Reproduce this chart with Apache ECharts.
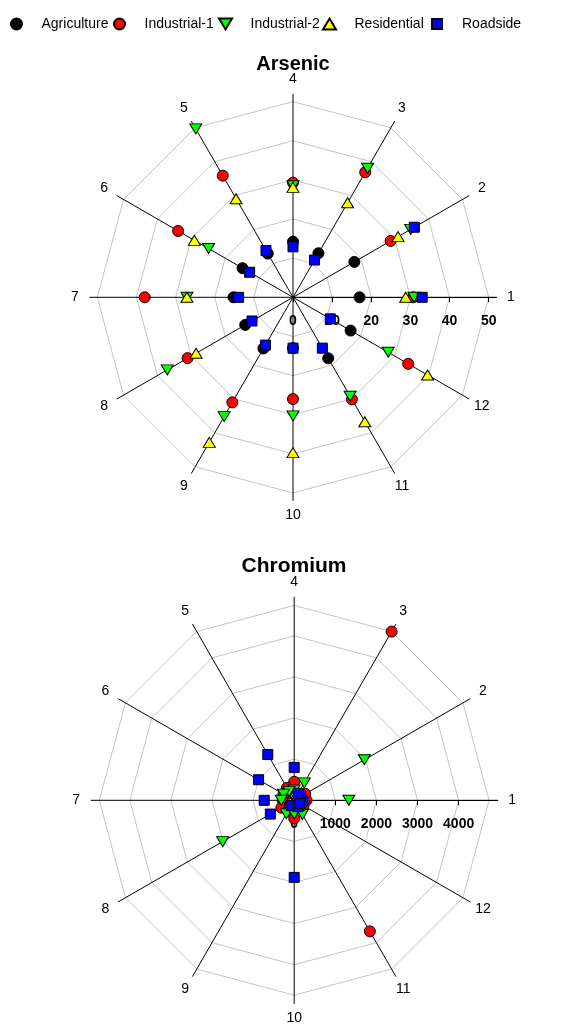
<!DOCTYPE html>
<html>
<head>
<meta charset="utf-8">
<script src="https://cdn.jsdelivr.net/npm/echarts@6/dist/echarts.min.js"></script>
<style>
html,body{margin:0;padding:0;background:#fff;}
#chart{width:569px;height:1025px;}
</style>
</head>
<body>
<div id="chart"></div>
<script>
// ---- data ----
const months = ['1','2','3','4','5','6','7','8','9','10','11','12'];
const seriesNames = ['Agriculture','Industrial-1','Industrial-2','Residential','Roadside'];

// Arsenic values for months 1..12
const asAgriculture = [17.0, 18.1, 13.0, 14.2, 12.9, 14.9, 15.2, 14.1, 15.1, 13.0, 18.0, 17.0];
const asIndustrial1 = [30.7, 28.8, 36.9, 29.3, 35.9, 33.9, 37.9, 31.1, 31.0, 26.0, 30.1, 34.0];
const asIndustrial2 = [30.9, 34.7, 38.1, 28.5, 49.7, 24.9, 27.1, 37.1, 35.2, 30.3, 29.2, 28.1];
const asResidential = [28.8, 31.0, 27.9, 28.1, 29.1, 29.1, 27.1, 28.6, 42.8, 39.7, 36.7, 39.7];
const asRoadside    = [33.0, 35.8, 11.0, 12.9, 13.8, 12.8, 13.9, 12.1, 14.1, 13.0, 15.0, 11.0];

// Chromium values for months 1..12
const crAgriculture = [240, 200, 180, 150, 150, 170, 200, 180, 170, 160, 200, 230];
const crIndustrial1 = [300, 310, 4740, 450, 350, 300, 280, 360, 300, 440, 3680, 260];
const crIndustrial2 = [1330, 1970, 490, 250, 250, 300, 315, 2010, 380, 335, 400, 270];
const crResidential = [120, 110, 100, 100, 90, 90, 100, 110, 100, 100, 110, 120];
const crRoadside    = [200, 180, 195, 800, 1285, 1000, 730, 670, 150, 1875, 180, 160];

// axis ticks / rings
const asTicks = [0, 10, 20, 30, 40, 50];
const asRings = [10, 20, 30, 40, 50];
const asMax = 52;
const crTicks = [0, 1000, 2000, 3000, 4000];
const crRings = [1000, 2000, 3000, 4000, 4740];
const crMax = 4950;

// ---- styles ----
const FONT = 'Liberation Sans, Arial, sans-serif';
const styles = [
  {symbol:'circle', size:11, rotate:0, color:'#000000'},
  {symbol:'circle', size:11, rotate:0, color:'#ff0000'},
  {symbol:'triangle', size:[12,10], rotate:180, color:'#00ff00'},
  {symbol:'triangle', size:[12,10], rotate:0, color:'#ffff00'},
  {symbol:'rect', size:10, rotate:0, color:'#0000ff'}
];
const legendIcons = ['circle', 'circle', 'path://M0,0 L12,0 L6,10 Z', 'path://M6,0 L12,10 L0,10 Z', 'rect'];
const legendSizes = [[11,11],[11,11],[13,11],[13,11],[10,10]];
const LABEL_FRAC = 218 / 203.5; // month labels sit just beyond the spoke ends

function ringSeries(polarIndex, rings) {
  return rings.map(r => ({
    type: 'line',
    coordinateSystem: 'polar',
    polarIndex: polarIndex,
    data: months.map((m, i) => [r, i]).concat([[r, 12]]),
    symbol: 'none',
    silent: true,
    z: 0,
    lineStyle: {color: '#c4c4c4', width: 1},
    animation: false
  }));
}

function monthLabelSeries(polarIndex, axisMax) {
  return {
    type: 'scatter',
    coordinateSystem: 'polar',
    polarIndex: polarIndex,
    data: months.map((m, i) => [axisMax * LABEL_FRAC, i]),
    symbol: 'circle',
    symbolSize: 1,
    itemStyle: {color: 'rgba(255,255,255,0)'},
    clip: false,
    silent: true,
    z: 3,
    label: {
      show: true, position: 'inside',
      formatter: p => months[p.dataIndex],
      color: '#000000', fontSize: 14, fontFamily: FONT,
      textBorderWidth: 0, opacity: 1
    },
    animation: false
  };
}

function pointSeries(polarIndex, arrays) {
  return arrays.map((arr, k) => ({
    name: seriesNames[k],
    type: 'scatter',
    coordinateSystem: 'polar',
    polarIndex: polarIndex,
    data: arr.map((v, i) => [v, i]),
    symbol: styles[k].symbol,
    symbolSize: styles[k].size,
    symbolRotate: styles[k].rotate,
    itemStyle: {color: styles[k].color, borderColor: '#000', borderWidth: 1, opacity: 1},
    z: 3,
    animation: false
  }));
}

function angleAxis(polarIndex) {
  return {
    polarIndex: polarIndex,
    type: 'value', min: 0, max: 12, interval: 1,
    startAngle: 0, clockwise: false,
    z: 1,
    axisLine: {show: false},
    axisTick: {show: false},
    splitLine: {show: true, lineStyle: {color: '#000', width: 1}},
    axisLabel: {show: false}
  };
}

function radiusAxis(polarIndex, max, ticks) {
  return {
    polarIndex: polarIndex,
    type: 'value', min: 0, max: max,
    z: 1,
    axisLine: {show: true, lineStyle: {color: '#000', width: 1}},
    // polar radius axis draws ticks/labels above by default; negative values flip them below
    axisTick: {show: true, length: -5, customValues: ticks, lineStyle: {color: '#000'}},
    splitLine: {show: false},
    axisLabel: {
      show: true, margin: -31, customValues: ticks,
      color: '#000', fontSize: 14, fontWeight: 'bold', fontFamily: FONT,
      formatter: v => String(v)
    }
  };
}

const legendLefts = [10, 113, 218, 322, 431];

const option = {
  backgroundColor: '#fff',
  animation: false,
  textStyle: {fontFamily: FONT},
  title: [
    {text: 'Arsenic', left: 293, top: 54, textAlign: 'center', padding: 0,
     textStyle: {fontSize: 20, fontWeight: 'bold', color: '#000', fontFamily: FONT}},
    {text: 'Chromium', left: 294, top: 556, textAlign: 'center', padding: 0,
     textStyle: {fontSize: 21, fontWeight: 'bold', color: '#000', fontFamily: FONT}}
  ],
  legend: seriesNames.map((n, k) => ({
    data: [{name: n, icon: legendIcons[k]}],
    left: legendLefts[k], top: 17,
    padding: 0,
    itemWidth: legendSizes[k][0], itemHeight: legendSizes[k][1],
    selectedMode: false,
    textStyle: {fontSize: 14, color: '#000', fontFamily: FONT,
                padding: [0, 0, 0, 25 - 5 - legendSizes[k][0] / 2]}
  })),
  polar: [
    {center: [293, 297.3], radius: 203.5},
    {center: [294.2, 800.3], radius: 203.5}
  ],
  angleAxis: [angleAxis(0), angleAxis(1)],
  radiusAxis: [radiusAxis(0, asMax, asTicks), radiusAxis(1, crMax, crTicks)],
  series: [].concat(
    ringSeries(0, asRings),
    ringSeries(1, crRings),
    [monthLabelSeries(0, asMax), monthLabelSeries(1, crMax)],
    pointSeries(0, [asAgriculture, asIndustrial1, asIndustrial2, asResidential, asRoadside]),
    pointSeries(1, [crAgriculture, crIndustrial1, crIndustrial2, crResidential, crRoadside])
  )
};

const chart = echarts.init(document.getElementById('chart'), null, {renderer: 'canvas'});
chart.setOption(option);
</script>
</body>
</html>
